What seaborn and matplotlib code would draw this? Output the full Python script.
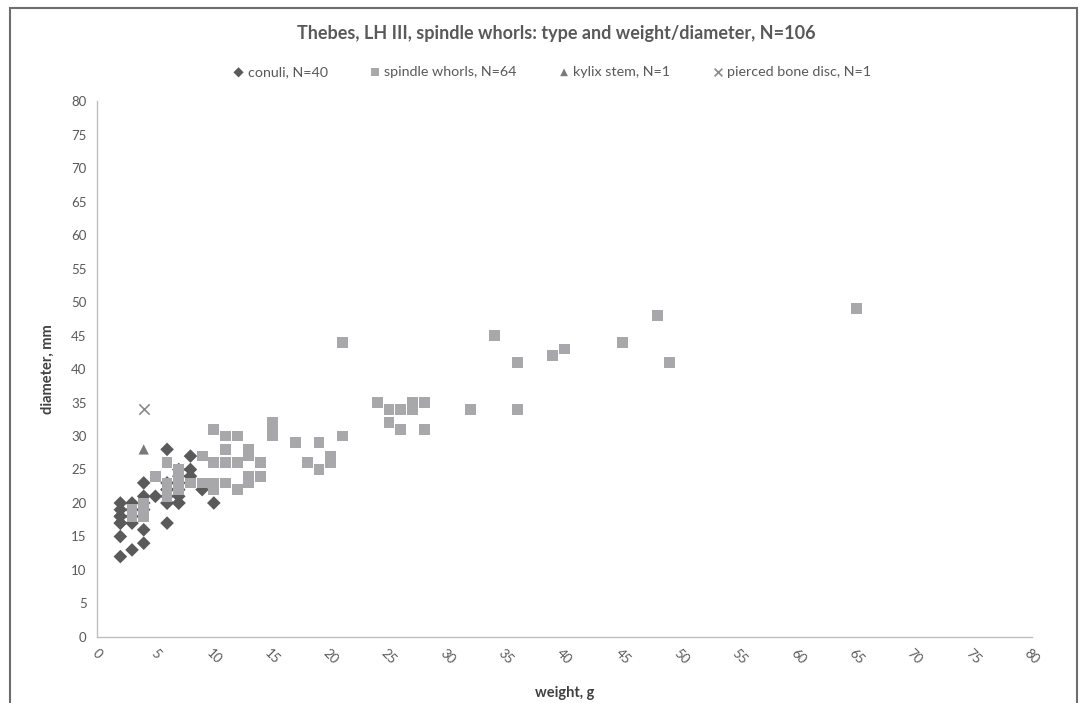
import pandas as pd
import seaborn as sns
import matplotlib.pyplot as plt
from matplotlib.patches import Rectangle

# values (weight in g, diameter in mm)
conuli_w = [2, 2, 2, 2, 2, 2, 2, 2, 3, 3, 3, 3, 3, 4, 4, 4, 4, 4, 4,
            5, 6, 6, 6, 6, 6, 6, 6, 6, 7, 7, 7, 7, 7, 7, 7, 8, 8, 8, 9, 10]
conuli_d = [20, 19, 18, 18, 17, 17, 15, 12, 20, 19, 18, 17, 13, 23, 21, 20, 19, 16, 14,
            21, 28, 23, 22, 22, 21, 20, 20, 17, 25, 24, 23, 22, 21, 20, 20, 27, 25, 24, 22, 20]

spindle_w = [3, 3, 4, 4, 4, 5, 6, 6, 6, 6, 7, 7, 7, 7, 8, 9, 9,
             10, 10, 10, 10, 11, 11, 11, 11, 12, 12, 12, 13, 13, 13, 13, 14, 14,
             15, 15, 15, 17, 18, 19, 19, 20, 20, 21, 21, 24, 25, 25, 26, 26,
             27, 27, 28, 28, 32, 34, 36, 36, 39, 40, 45, 48, 49, 65]
spindle_d = [19, 18, 20, 19, 18, 24, 26, 23, 22, 21, 25, 24, 23, 22, 23, 27, 23,
             31, 26, 23, 22, 30, 28, 26, 23, 30, 26, 22, 28, 27, 24, 23, 26, 24,
             32, 31, 30, 29, 26, 29, 25, 27, 26, 44, 30, 35, 34, 32, 34, 31,
             35, 34, 35, 31, 34, 45, 41, 34, 42, 43, 44, 48, 41, 49]

kylix_w = [4]
kylix_d = [28]
bone_w = [4]
bone_d = [34]

groups = ["conuli, N=40", "spindle whorls, N=64", "kylix stem, N=1", "pierced bone disc, N=1"]

df = pd.concat([
    pd.DataFrame({"weight": conuli_w, "diameter": conuli_d, "type": groups[0]}),
    pd.DataFrame({"weight": spindle_w, "diameter": spindle_d, "type": groups[1]}),
    pd.DataFrame({"weight": kylix_w, "diameter": kylix_d, "type": groups[2]}),
    pd.DataFrame({"weight": bone_w, "diameter": bone_d, "type": groups[3]}),
])

sns.set_style("white")
plt.rcParams["font.family"] = ["Lato", "DejaVu Sans"]

styles = {
    groups[0]: dict(marker="D", color="#5a5a5a", s=48),
    groups[1]: dict(marker="s", color="#a8a8aa", s=60),
    groups[2]: dict(marker="^", color="#7a7a7a", s=55),
    groups[3]: dict(marker="x", color="#8a8a8a", s=55),
}

fig = plt.figure(figsize=(10.86, 7.03), dpi=100)
ax = fig.add_axes([0.0893, 0.0939, 0.8607, 0.7624])

# one call per series: filled and line-art markers can't share a call
for g in groups:
    st = styles[g]
    sub = df[df["type"] == g]
    sns.scatterplot(data=sub, x="weight", y="diameter", ax=ax, label=g,
                    marker=st["marker"], color=st["color"], s=st["s"],
                    edgecolor="none" if st["marker"] != "x" else None,
                    linewidth=0 if st["marker"] != "x" else 1.2)

ax.set_xlim(0, 80)
ax.set_ylim(0, 80)
ax.set_xticks(range(0, 81, 5))
ax.set_yticks(range(0, 81, 5))
ax.tick_params(axis="both", labelsize=9.5, colors="#bfbfbf", length=4, width=0.8, direction="out")
ax.tick_params(axis="both", labelcolor="#595959")
plt.setp(ax.get_xticklabels(), rotation=-45, ha="center")

for side in ["top", "right"]:
    ax.spines[side].set_visible(False)
for side in ["left", "bottom"]:
    ax.spines[side].set_color("#bfbfbf")
    ax.spines[side].set_linewidth(1.0)

ax.set_xlabel("weight, g", fontsize=10.5, fontweight="bold", color="#404040", labelpad=14)
ax.set_ylabel("diameter, mm", fontsize=10.5, fontweight="bold", color="#404040", labelpad=12)

fig.text(0.512, 0.953, "Thebes, LH III, spindle whorls: type and weight/diameter, N=106",
         ha="center", va="center", fontsize=13, fontweight="bold", color="#595959")

leg = ax.legend(loc="center", bbox_to_anchor=(0.486, 1.054), ncol=4, frameon=False,
                fontsize=10.3, handletextpad=0.15, columnspacing=2.8, markerscale=0.75,
                handlelength=1.0)
for t in leg.get_texts():
    t.set_color("#595959")

# chart-area border like the spreadsheet export
fig.add_artist(Rectangle((0.0092, -0.05), 0.9825, 1.039, transform=fig.transFigure,
                         fill=False, edgecolor="#6e6e6e", linewidth=1.5))

fig.savefig("out.png", dpi=100)
